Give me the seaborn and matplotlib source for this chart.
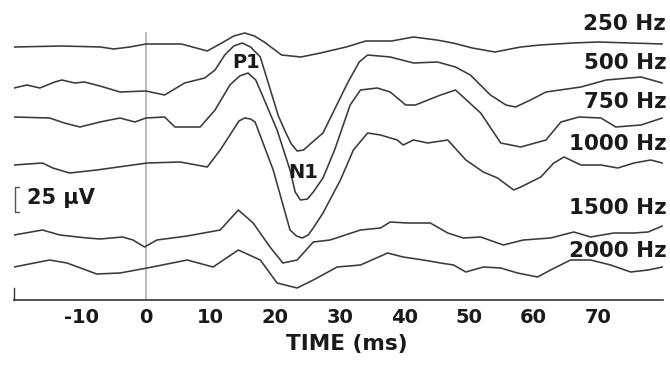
import numpy as np
import pandas as pd
import matplotlib
matplotlib.use("Agg")
import matplotlib.pyplot as plt
import seaborn as sns

# ---- data (time in ms, amplitude in µV relative to each trace's baseline) ----
freq_labels = ["250 Hz", "500 Hz", "750 Hz", "1000 Hz", "1500 Hz", "2000 Hz"]
offsets = [-46, -86, -120, -167, -236, -267]   # vertical stacking positions

t_250 = [-20.4, -13, -7, -5, -2.5, 0, 5.5, 9.5, 12, 13.6, 15.3, 16.8, 18.3, 21, 24, 27, 31, 34, 38, 41.4, 45, 47.5, 50.5, 54, 58, 61, 66, 70, 75, 79.9]
v_250 = [-1, 0, -1, -3, -1, 2, 2, -5, 4, 10, 13, 10, 4, -9, -11, -7, -1, 5, 5, 9, 6, 3, -2, -6, -1, 1, 3, 4, 3, 2]

t_500 = [-20.4, -18.4, -16.4, -14.1, -13, -11, -9.5, -7.1, -4, 0, 2.9, 6, 9.1, 10.7, 12.2, 13.6, 14.9, 16.2, 17.7, 20.5, 21.6, 22.5, 23.4, 24.4, 25.6, 27.4, 31.2, 33, 34.3, 37.8, 41.4, 45.1, 47.9, 50.2, 53.3, 55.7, 57.2, 59.5, 61.9, 67.3, 71.2, 76.6, 79.9]
v_500 = [-2, 1, -2, 4, 6, 3, 4, 0, -6, -5, -9, 3, 8, 16, 31, 40, 43, 39, 29, -30, -46, -58, -65, -64, -57, -47, 3, 24, 31, 29, 23, 24, 19, 11, -9, -19, -21, -14, -6, -1, 6, 9, 3]

t_750 = [-20.4, -14.9, -12.6, -10.2, -7.1, -4, -1.7, 0, 2.9, 4.5, 8.4, 10.7, 13, 14.5, 15.8, 17, 18, 20.3, 22.3, 23.1, 23.9, 25, 25.9, 27.4, 29.2, 31.6, 33.2, 35.8, 37.8, 40.2, 41.7, 45.6, 47.9, 51.8, 54.9, 58, 61.9, 64.2, 67, 70.4, 72.7, 76.6, 79.9]
v_750 = [3, 2, -3, -7, -2, 2, -2, 2, 3, -7, -7, 10, 35, 44, 47, 40, 25, -10, -50, -72, -80, -79, -72, -58, -30, 15, 30, 32, 28, 15, 15, 25, 30, 7, -23, -27, -20, -2, 3, 2, -7, -5, 2]

t_1000 = [-20.4, -16, -14.4, -11.8, -7.6, 0.2, 5.3, 9.5, 11.5, 13.5, 14.4, 15.3, 16.2, 16.9, 19.7, 22.3, 23.3, 24.2, 25.1, 25.9, 27.4, 30.1, 32.1, 34.3, 36.3, 38.9, 39.8, 41.4, 43.6, 46.7, 49.5, 52.2, 54.4, 56.9, 58, 61.1, 63.1, 64.7, 67.3, 70.4, 73, 75.5, 78.1, 79.9]
v_1000 = [2, 4, -1, -6, -3, 4, 5, 0, 17, 37, 46, 49, 48, 45, -3, -63, -69, -71, -68, -61, -46, -13, 17, 34, 32, 27, 22, 27, 24, 27, 7, -5, -11, -23, -20, -10, 4, 10, 2, 2, -1, 4, 7, 4]

t_1500 = [-20.4, -16, -13.3, -9.1, -7.1, -3.6, -2, -0.2, 1.7, 6.4, 11.5, 14.3, 16.6, 19.2, 21.2, 23.4, 25.9, 28.5, 33.2, 36.3, 37.8, 40.5, 44, 46.7, 49.1, 51.8, 55.3, 58.4, 62.6, 66.2, 68.8, 72.4, 75.5, 77.7, 79.9]
v_1500 = [1, 6, 1, -2, -3, -1, -4, -11, -4, 0, 6, 26, 13, -11, -27, -24, -6, -4, 6, 8, 14, 13, 13, 3, -2, -1, -9, -4, -2, 4, -1, 3, 3, 4, 10]

t_2000 = [-20.4, -14.9, -12.2, -7.6, -4, 0.2, 6.4, 10.4, 14.3, 17.7, 20.3, 23.4, 25.9, 29.6, 33.2, 37.4, 39.8, 42.9, 45.6, 47.6, 49.5, 52.2, 54.9, 57.5, 60.6, 62.6, 65.7, 68.8, 71.9, 75, 77.7, 79.9]
v_2000 = [0, 7, 4, -7, -6, -1, 7, 0, 17, 7, -16, -21, -13, 0, 2, 14, 10, 7, 4, 2, -5, 0, -1, -6, -10, -3, 7, 7, 2, -5, -3, 0]

times = [t_250, t_500, t_750, t_1000, t_1500, t_2000]
values = [v_250, v_500, v_750, v_1000, v_1500, v_2000]

x_ticks = [-20, -10, 0, 10, 20, 30, 40, 50, 60, 70, 80]
x_tick_labels = ["", "-10", "0", "10", "20", "30", "40", "50", "60", "70", ""]

# ---- build long table ----
rows = []
for lab, off, tt, vv in zip(freq_labels, offsets, times, values):
    for t, v in zip(tt, vv):
        rows.append({"time": t, "y": off + v, "freq": lab})
df = pd.DataFrame(rows)

sns.set_style("white")
plt.rcParams["font.family"] = ["DejaVu Sans"]
plt.rcParams["font.weight"] = "bold"

fig = plt.figure(figsize=(6.7, 3.65), dpi=100)
ax = fig.add_axes([14 / 670, 65 / 365, 649 / 670, 300 / 365])

ax.vlines(0, -300, -32, color="#b0b0b0", lw=1.2, zorder=1)

sns.lineplot(data=df, x="time", y="y", hue="freq", units="freq", estimator=None,
             palette=["#3a3a3a"] * 6, lw=1.15, legend=False, sort=True, ax=ax, zorder=3)

ax.set_xlim(-20.4, 79.9)
ax.set_ylim(-300, 0)
for s in ["top", "right"]:
    ax.spines[s].set_visible(False)
ax.spines["left"].set_bounds(-300, -288)
ax.spines["left"].set_color("#333333")
ax.spines["bottom"].set_color("#333333")
ax.spines["bottom"].set_linewidth(1.2)
ax.spines["left"].set_linewidth(1.0)
ax.set_yticks([])
ax.set_xticks(x_ticks)
ax.set_xticklabels(x_tick_labels, fontsize=14, fontweight="bold", color="#1a1a1a")
ax.tick_params(axis="x", direction="in", length=5, width=1, color="#333333", pad=6)
ax.set_ylabel("")
ax.set_xlabel("TIME (ms)", fontsize=15.5, fontweight="bold", color="#1a1a1a", va="center")
ax.xaxis.set_label_coords((347 - 14) / 649, -(344 - 300) / 300)

# trace labels
label_y = [-24, -63, -102, -144, -208, -251]
for lab, yy in zip(freq_labels, label_y):
    ax.text(80.5, yy, lab, ha="right", va="center", fontsize=15.5, fontweight="bold",
            color="#1a1a1a", clip_on=False, zorder=5)

ax.text(15.5, -62, "P1", ha="center", va="center", fontsize=14, fontweight="bold", color="#1a1a1a", zorder=5)
ax.text(24.3, -172, "N1", ha="center", va="center", fontsize=14, fontweight="bold", color="#1a1a1a", zorder=5)

# scale bar 25 µV
ax.plot([-19.6, -20.2, -20.2, -19.6], [-187, -187, -212, -212], color="#555555", lw=1.0, clip_on=False)
ax.text(-18.4, -198, "25 µV", ha="left", va="center", fontsize=15, fontweight="bold", color="#1a1a1a")

fig.savefig("out.png", dpi=100)
